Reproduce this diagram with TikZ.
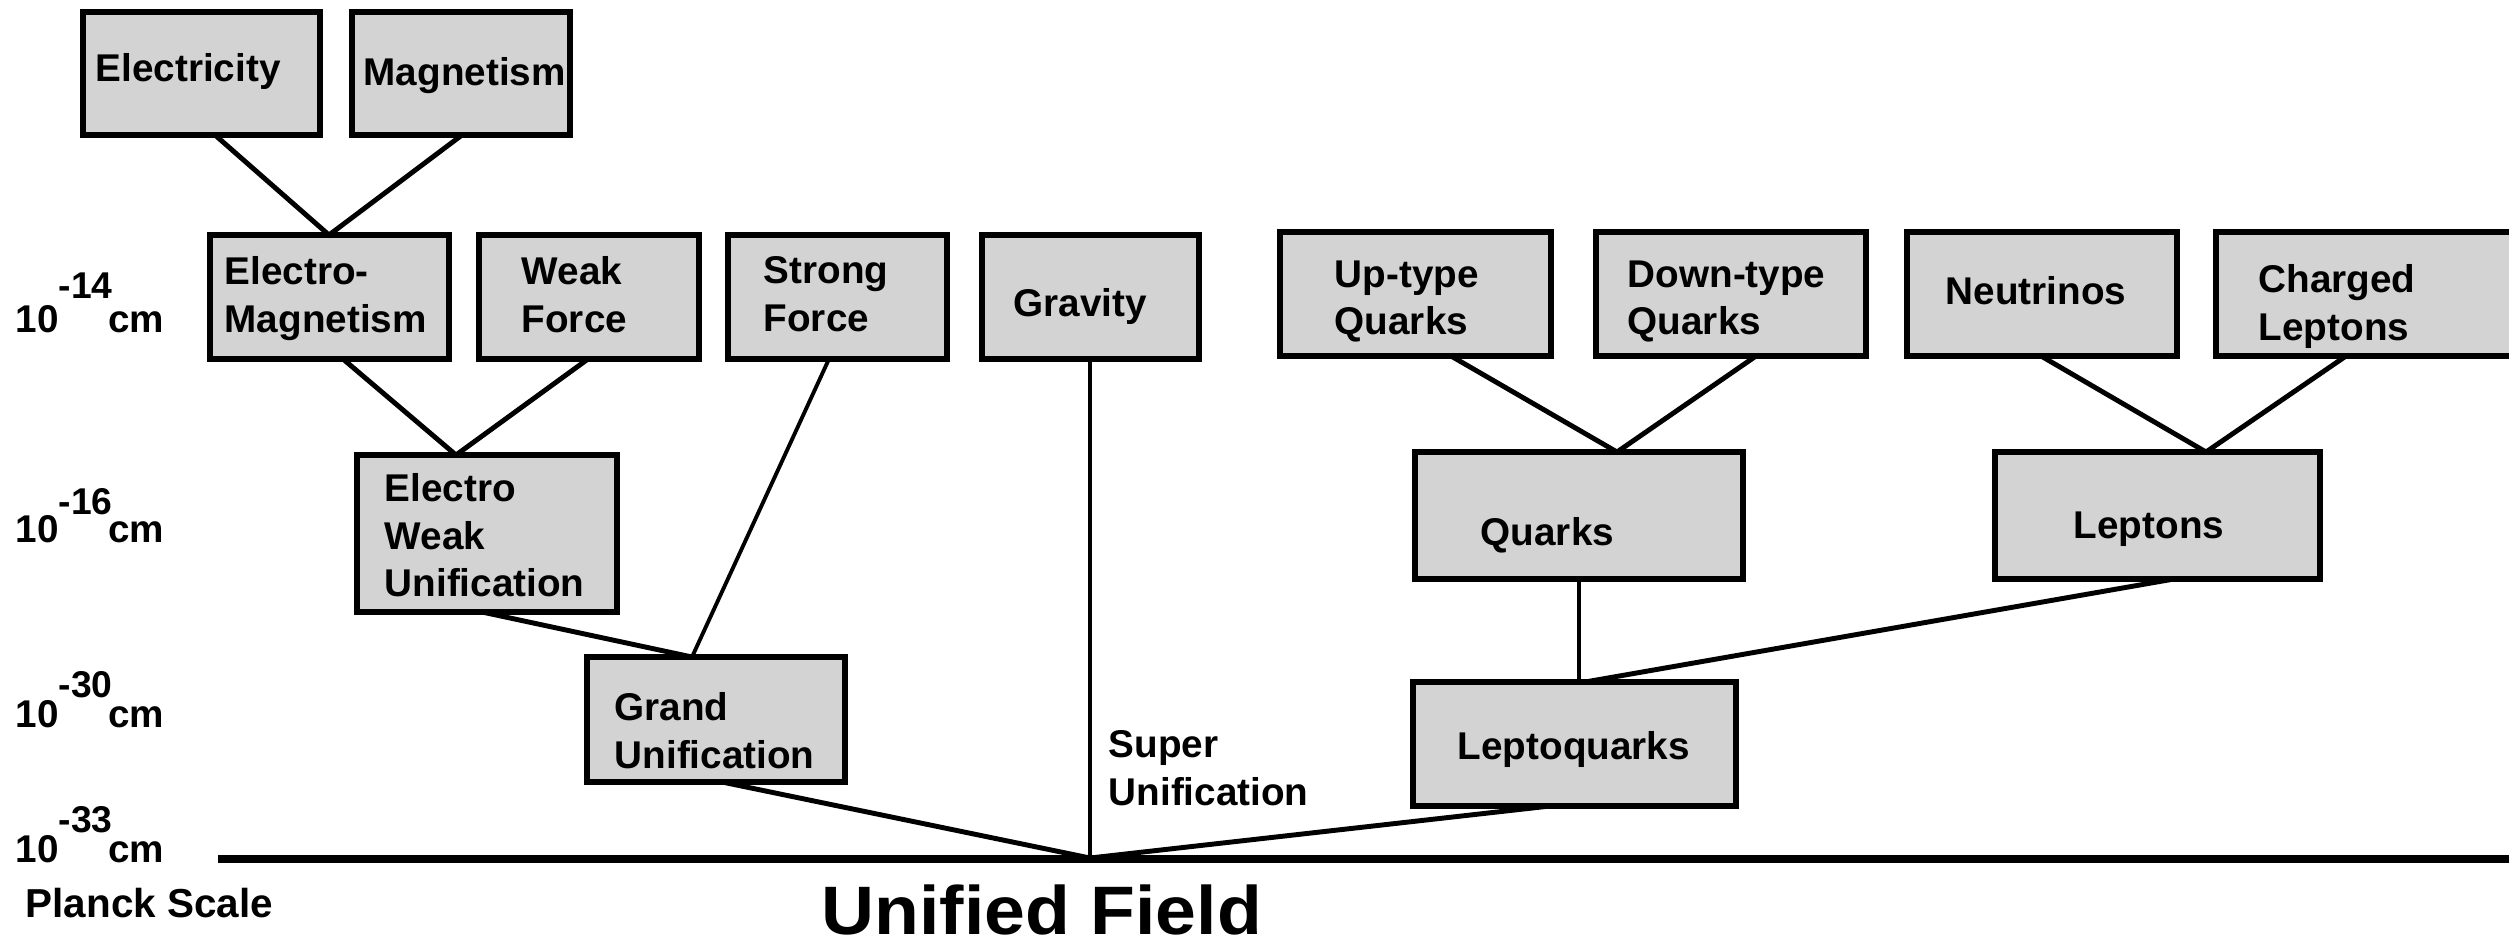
\documentclass[tikz,border=0pt]{standalone}
\usepackage{fontspec}
\setmainfont{Liberation Sans}
\newfontfamily\titlefont{Liberation Sans}[FakeStretch=1.07]
\usetikzlibrary{fit,calc}
\definecolor{boxgray}{HTML}{D3D3D3}
% length-scale label: 10^{-n} cm with a raised exponent
\newcommand\lenlabel[2]{10\raisebox{#2}{\fontsize{10.6}{11}\selectfont -#1}\kern-1.2pt cm}
\tikzset{
  box/.style={draw=black, line width=1.6pt, fill=boxgray, inner sep=0pt, outer sep=0pt},
  link/.style={line width=1.4pt},
  thinlink/.style={line width=1.1pt},
  axisline/.style={line width=2pt},
  lbl/.style={anchor=north west, inner sep=0pt, align=left, yshift=-0.9pt,
    font=\fontsize{11}{13.4}\selectfont\bfseries},
  sidelbl/.style={anchor=base west, inner sep=0pt,
    font=\fontsize{11}{13}\selectfont\bfseries},
}
\begin{document}
\begin{tikzpicture}[x=0.01cm, y=-0.01cm]
\useasboundingbox (0,0) rectangle (2509,945);
\clip (0,0) rectangle (2509,945);

% ---- boxes ----
\node[box, fit={(83,12) (320,135)}]      (elec)    {};
\node[box, fit={(352,12) (570,135)}]     (mag)     {};
\node[box, fit={(210,235) (449,359)}]    (em)      {};
\node[box, fit={(479,235) (699,359)}]    (weak)    {};
\node[box, fit={(728,235) (947,359)}]    (strong)  {};
\node[box, fit={(982,235) (1199,359)}]   (grav)    {};
\node[box, fit={(1280,232) (1551,356)}]  (up)      {};
\node[box, fit={(1596,232) (1866,356)}]  (down)    {};
\node[box, fit={(1907,232) (2177,356)}]  (neut)    {};
\node[box, fit={(2216,232) (2540,356)}]  (charged) {};
\node[box, fit={(357,455) (617,612)}]    (ewu)     {};
\node[box, fit={(1415,452) (1743,579)}]  (quarks)  {};
\node[box, fit={(1995,452) (2320,579)}]  (leptons) {};
\node[box, fit={(587,657) (845,782)}]    (grand)   {};
\node[box, fit={(1413,682) (1736,806)}]  (lq)      {};

% ---- box texts ----
\node[lbl] (t-elec)    at (95,50)    {Electricity};
\node[lbl] (t-mag)     at (363,54)   {Magnetism};
\node[lbl] (t-em)      at (224,253)  {Electro-\\Magnetism};
\node[lbl] (t-weak)    at (521,253)  {Weak\\Force};
\node[lbl] (t-strong)  at (763,253)  {Strong\\Force};
\node[lbl] (t-grav)    at (1013,285) {Gravity};
\node[lbl] (t-up)      at (1334,257) {Up-type\\Quarks};
\node[lbl] (t-down)    at (1627,257) {Down-type\\Quarks};
\node[lbl] (t-neut)    at (1945,273) {Neutrinos};
\node[lbl] (t-charged) at (2258,261) {Charged\\Leptons};
\node[lbl] (t-ewu)     at (384,470)  {Electro\\Weak\\Unification};
\node[lbl] (t-quarks)  at (1480,514) {Quarks};
\node[lbl] (t-leptons) at (2073,508) {Leptons};
\node[lbl] (t-grand)   at (614,689)  {Grand\\Unification};
\node[lbl] (t-lq)      at (1457,728) {Leptoquarks};
\node[lbl] (t-super)   at (1108,727) {Super\\Unification};

% ---- scale labels ----
\node[sidelbl] (s14) at (15,332) {\lenlabel{14}{9.4pt}};
\node[sidelbl] (s16) at (15,542) {\lenlabel{16}{7.7pt}};
\node[sidelbl] (s30) at (15,727) {\lenlabel{30}{8.3pt}};
\node[sidelbl] (s33) at (15,862) {\lenlabel{33}{8.3pt}};
\node[sidelbl] (planck) at (25,917) {\fontsize{11.5}{13}\selectfont Planck Scale};
\node[anchor=base west, inner sep=0pt, font=\titlefont\fontsize{19.5}{23}\selectfont\bfseries]
  (unified) at (821,934) {Unified Field};

% ---- axis and meeting point ----
\coordinate (axisL) at (218,859);
\coordinate (axisR) at (2530,859);
\coordinate (meet)  at (1090,858);
\draw[axisline] (axisL) -- (axisR);

% ---- connectors ----
\draw[link] ($(elec.south west)+(132,0)$) -- ($(em.north west)+(119,0)$)
            -- ($(mag.south west)+(110,0)$);
\draw[link] ($(em.south west)+(133,0)$) -- ($(ewu.north west)+(99,0)$)
            -- ($(weak.south west)+(109,0)$);
\draw[thinlink] ($(strong.south west)+(101,0)$) -- ($(grand.north west)+(105,0)$);
\draw[link] ($(ewu.south west)+(125,0)$) -- ($(grand.north west)+(105,0)$);
\draw[link] ($(grand.south west)+(135,0)$) -- (meet);
\draw[thinlink] ($(grav.south west)+(108,0)$) -- (meet);
\draw[link] ($(lq.south west)+(137,0)$) -- (meet);
\draw[link] ($(up.south west)+(171,0)$) -- ($(quarks.north west)+(202,0)$)
            -- ($(down.south west)+(160,0)$);
\draw[link] ($(neut.south west)+(134,0)$) -- ($(leptons.north west)+(211,0)$)
            -- ($(charged.south west)+(130,0)$);
\draw[thinlink] ($(quarks.south west)+(164,0)$) -- ($(lq.north west)+(166,0)$);
\draw[link] ($(leptons.south west)+(179,0)$) -- ($(lq.north west)+(172,0)$);
\end{tikzpicture}
\end{document}
